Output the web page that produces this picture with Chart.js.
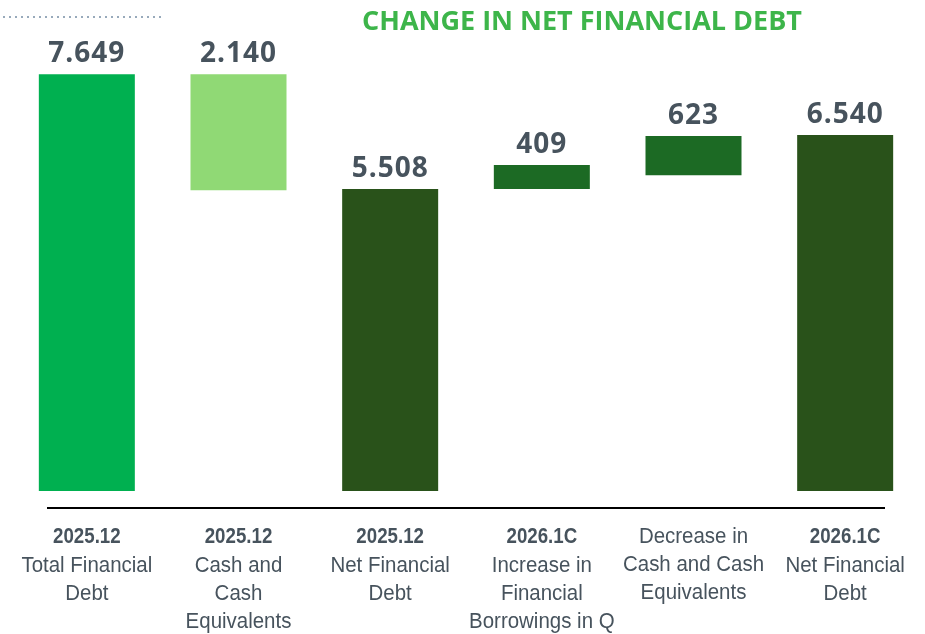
<!DOCTYPE html>
<html lang="en">
<head>
  <meta charset="UTF-8">
  <title>Change in Net Financial Debt</title>
  <script src="https://cdn.jsdelivr.net/npm/chart.js"></script>
  <style>
    body {
      margin: 0;
      padding: 0;
      background: #ffffff;
    }
    #debtChart {
      display: block;
    }
  </style>
</head>
<body>
  <canvas id="debtChart" width="925" height="634"></canvas>
  <script>
    // data
    const titleText = 'CHANGE IN NET FINANCIAL DEBT';
    const catTitles = ['2025.12', '2025.12', '2025.12', '2026.1C', '', '2026.1C'];
    const catLines = [
      ['Total Financial', 'Debt'],
      ['Cash and', 'Cash', 'Equivalents'],
      ['Net Financial', 'Debt'],
      ['Increase in', 'Financial', 'Borrowings in Q'],
      ['Decrease in', 'Cash and Cash', 'Equivalents'],
      ['Net Financial', 'Debt']
    ];
    const valueLabels = ['7.649', '2.140', '5.508', '409', '623', '6.540'];
    const barLow = [0, 5520, 0, 5540, 5795, 0];
    const barHigh = [7649, 7649, 5540, 5980, 6512, 6530];
    const barColors = ['#00b050', '#90d975', '#29521a', '#1c6a24', '#1c6a24', '#29521a'];

    const textColor = '#47535d';

    // draw text squeezed a bit, the source font is narrow
    function narrowText(ctx, txt, x, y, squeeze) {
      const w = ctx.measureText(txt).width;
      ctx.fillText(txt, x, y, w * squeeze);
    }

    const decor = {
      id: 'decor',
      afterDraw(chart) {
        const ctx = chart.ctx;
        const area = chart.chartArea;
        const xs = chart.scales.x;
        const meta = chart.getDatasetMeta(0);
        ctx.save();

        // dotted rule top left
        ctx.fillStyle = '#98aabb';
        for (let x = 3; x < 160; x += 6) {
          ctx.fillRect(x, 16, 2, 2);
        }

        // title
        ctx.fillStyle = '#3db54a';
        ctx.font = 'bold 27px "Open Sans", sans-serif';
        ctx.textAlign = 'center';
        ctx.textBaseline = 'alphabetic';
        ctx.fillText(titleText, 582, 30, 453);

        // value labels
        ctx.fillStyle = textColor;
        ctx.font = 'bold 28px "Open Sans", sans-serif';
        ctx.letterSpacing = '1px';
        meta.data.forEach((bar, i) => {
          ctx.fillText(valueLabels[i], bar.x, bar.y - 12);
        });
        ctx.letterSpacing = '0px';

        // axis line
        ctx.strokeStyle = '#000000';
        ctx.lineWidth = 2;
        ctx.beginPath();
        ctx.moveTo(area.left + 36, area.bottom);
        ctx.lineTo(area.right - 36, area.bottom);
        ctx.stroke();

        // category labels
        catLines.forEach((lines, i) => {
          const x = xs.getPixelForValue(i);
          let y = area.bottom + 35;
          if (catTitles[i]) {
            ctx.font = 'bold 22px "Liberation Sans", sans-serif';
            narrowText(ctx, catTitles[i], x, y, 0.85);
            y += 29;
          }
          ctx.font = '22px "Liberation Sans", sans-serif';
          lines.forEach(line => {
            narrowText(ctx, line, x, y, 0.93);
            y += 28;
          });
        });
        ctx.restore();
      }
    };

    new Chart(document.getElementById('debtChart'), {
      type: 'bar',
      data: {
        labels: valueLabels,
        datasets: [{
          data: barLow.map((lo, i) => [lo, barHigh[i]]),
          backgroundColor: barColors,
          borderWidth: 0,
          barPercentage: 0.633,
          categoryPercentage: 1
        }]
      },
      options: {
        responsive: false,
        animation: false,
        layout: {
          padding: { left: 11, right: 4, top: 55, bottom: 126 }
        },
        plugins: {
          legend: { display: false },
          tooltip: { enabled: false },
          title: { display: false }
        },
        scales: {
          x: { display: false },
          y: { display: false, min: -312, max: 8000 }
        }
      },
      plugins: [decor]
    });
  </script>
</body>
</html>
